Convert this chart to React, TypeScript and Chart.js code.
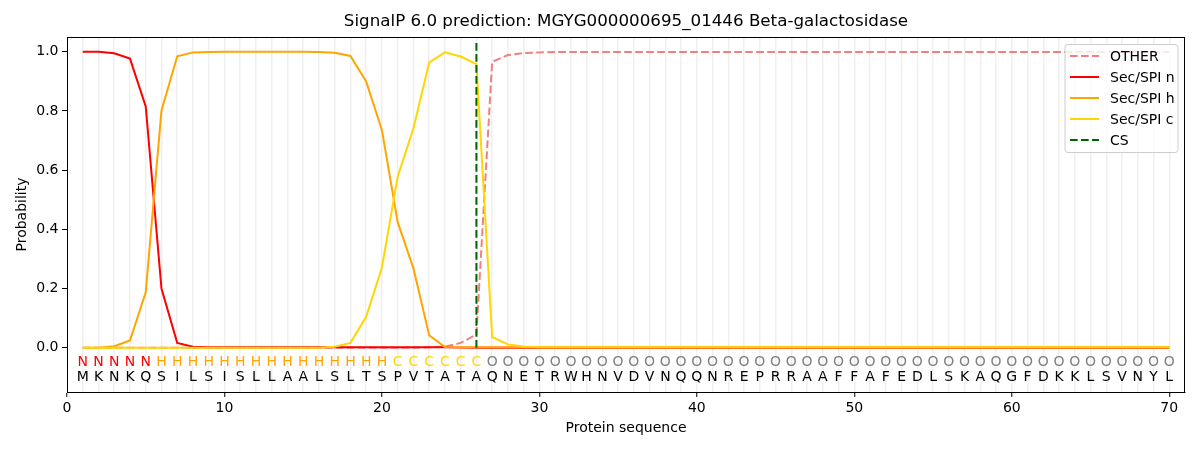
import React, { useEffect, useRef } from "react";
import { Chart, registerables } from "chart.js";

Chart.register(...registerables);

const positions = [
  1, 2, 3, 4, 5, 6, 7, 8, 9, 10, 11, 12, 13, 14, 15, 16, 17, 18, 19, 20,
  21, 22, 23, 24, 25, 26, 27, 28, 29, 30, 31, 32, 33, 34, 35, 36, 37, 38, 39, 40,
  41, 42, 43, 44, 45, 46, 47, 48, 49, 50, 51, 52, 53, 54, 55, 56, 57, 58, 59, 60,
  61, 62, 63, 64, 65, 66, 67, 68, 69, 70,
];

const residues = "MKNKQSILSISLLAALSLTSPVTATAQNETRWHNVDVNQQNREPRRAAFFAFEDLSKAQGFDKKLSVNYL";
const regionLabels = "NNNNNHHHHHHHHHHHHHHHCCCCCCOOOOOOOOOOOOOOOOOOOOOOOOOOOOOOOOOOOOOOOOOOOO";

const otherValues = [
  0, 0, 0, 0, 0, 0, 0, 0, 0, 0, 0, 0, 0, 0, 0, 0, 0, 0, 0, 0,
  0, 0, 0.001, 0.003, 0.016, 0.044, 0.966, 0.989, 0.996, 0.998, 0.999, 0.999, 0.999, 0.999, 0.999, 0.999, 0.999, 0.999, 0.999, 0.999,
  0.999, 0.999, 0.999, 0.999, 0.999, 0.999, 0.999, 0.999, 0.999, 0.999, 0.999, 0.999, 0.999, 0.999, 0.999, 0.999, 0.999, 0.999, 0.999, 0.999,
  0.999, 0.999, 0.999, 0.999, 0.999, 0.999, 0.999, 0.999, 0.999, 0.999,
];

const secNValues = [
  1.0, 1.0, 0.995, 0.977, 0.815, 0.2, 0.016, 0.003, 0.001, 0.001, 0.001, 0.001, 0.001, 0.001, 0.001, 0.001, 0.001, 0.001, 0.001, 0.001,
  0.001, 0.001, 0.001, 0.001, 0, 0, 0, 0, 0, 0, 0, 0, 0, 0, 0, 0, 0, 0, 0, 0,
  0, 0, 0, 0, 0, 0, 0, 0, 0, 0, 0, 0, 0, 0, 0, 0, 0, 0, 0, 0,
  0, 0, 0, 0, 0, 0, 0, 0, 0, 0,
];

const secHValues = [
  0, 0, 0.005, 0.024, 0.187, 0.802, 0.985, 0.998, 0.999, 1.0, 1.0, 1.0, 1.0, 1.0, 1.0, 0.999, 0.997, 0.986, 0.9, 0.735,
  0.424, 0.268, 0.042, 0.002, 0.001, 0.001, 0.001, 0.001, 0.001, 0.001, 0.001, 0.001, 0.001, 0.001, 0.001, 0.001, 0.001, 0.001, 0.001, 0.001,
  0.001, 0.001, 0.001, 0.001, 0.001, 0.001, 0.001, 0.001, 0.001, 0.001, 0.001, 0.001, 0.001, 0.001, 0.001, 0.001, 0.001, 0.001, 0.001, 0.001,
  0.001, 0.001, 0.001, 0.001, 0.001, 0.001, 0.001, 0.001, 0.001, 0.001,
];

const secCValues = [
  0, 0, 0, 0, 0, 0, 0, 0, 0, 0, 0, 0, 0, 0, 0, 0, 0.003, 0.016, 0.104, 0.271,
  0.578, 0.741, 0.964, 0.998, 0.984, 0.958, 0.036, 0.011, 0.004, 0.001, 0.001, 0.001, 0.001, 0.001, 0.001, 0.001, 0.001, 0.001, 0.001, 0.001,
  0.001, 0.001, 0.001, 0.001, 0.001, 0.001, 0.001, 0.001, 0.001, 0.001, 0.001, 0.001, 0.001, 0.001, 0.001, 0.001, 0.001, 0.001, 0.001, 0.001,
  0.001, 0.001, 0.001, 0.001, 0.001, 0.001, 0.001, 0.001, 0.001, 0.001,
];

const csPosition = 26;
const csSpan = [0, 1.035];

const yTickValues = [0, 0.2, 0.4, 0.6, 0.8, 1.0];
const xTickStep = 1;
const xLabelEvery = 10;

const titleText = "SignalP 6.0 prediction: MGYG000000695_01446 Beta-galactosidase";
const legendNames = ["OTHER", "Sec/SPI n", "Sec/SPI h", "Sec/SPI c", "CS"];

const FONT = "DejaVu Sans";
const regionColor: Record<string, string> = { N: "red", H: "orange", C: "gold", O: "gray" };

const toPoints = (vals: number[]) => positions.map((p, i) => ({ x: p, y: vals[i] }));

const overlayPlugin = {
  id: "overlay",
  afterDraw(chart: any) {
    const { ctx, chartArea, scales } = chart;
    const xs = scales.x;
    const ys = scales.y;
    ctx.save();
    // title, centred over the axes
    ctx.font = `16.7px "${FONT}"`;
    ctx.textAlign = "center";
    ctx.textBaseline = "middle";
    ctx.fillStyle = "#000";
    ctx.fillText(titleText, (chartArea.left + chartArea.right) / 2, chartArea.top - 15);
    // residue letters
    ctx.font = `14px "${FONT}"`;
    const yLab = ys.getPixelForValue(-0.049);
    const yRes = ys.getPixelForValue(-0.1);
    for (let i = 0; i < positions.length; i++) {
      const px = xs.getPixelForValue(positions[i]);
      const lab = regionLabels[i];
      ctx.fillStyle = regionColor[lab] || "gray";
      ctx.fillText(lab, px, yLab);
      ctx.fillStyle = "#000";
      ctx.fillText(residues[i], px, yRes);
    }
    // frame
    ctx.strokeStyle = "#000";
    ctx.lineWidth = 1;
    ctx.strokeRect(
      Math.round(chartArea.left) + 0.5,
      Math.round(chartArea.top) + 0.5,
      Math.round(chartArea.right - chartArea.left) - 1,
      Math.round(chartArea.bottom - chartArea.top)
    );
    // legend
    const datasets = chart.data.datasets;
    const order = [0, 1, 2, 3, 4];
    const boxW = 113;
    const rowH = 21;
    const boxH = 108;
    const bx = chartArea.right - 7 - boxW;
    const by = chartArea.top + 7.5;
    ctx.beginPath();
    const r = 3;
    ctx.moveTo(bx + r, by);
    ctx.lineTo(bx + boxW - r, by);
    ctx.arcTo(bx + boxW, by, bx + boxW, by + r, r);
    ctx.lineTo(bx + boxW, by + boxH - r);
    ctx.arcTo(bx + boxW, by + boxH, bx + boxW - r, by + boxH, r);
    ctx.lineTo(bx + r, by + boxH);
    ctx.arcTo(bx, by + boxH, bx, by + boxH - r, r);
    ctx.lineTo(bx, by + r);
    ctx.arcTo(bx, by, bx + r, by, r);
    ctx.closePath();
    ctx.fillStyle = "rgba(255,255,255,0.8)";
    ctx.fill();
    ctx.strokeStyle = "#cccccc";
    ctx.lineWidth = 1;
    ctx.stroke();
    ctx.textAlign = "left";
    ctx.textBaseline = "middle";
    ctx.font = `14px "${FONT}"`;
    order.forEach((di, k) => {
      const ds = datasets[di];
      const cy = by + 11.5 + k * rowH;
      ctx.beginPath();
      ctx.setLineDash(ds.borderDash || []);
      ctx.strokeStyle = ds.borderColor;
      ctx.lineWidth = ds.borderWidth;
      ctx.moveTo(bx + 5, cy);
      ctx.lineTo(bx + 34, cy);
      ctx.stroke();
      ctx.setLineDash([]);
      ctx.fillStyle = "#000";
      ctx.fillText(legendNames[k], bx + 45, cy + 1);
    });
    ctx.restore();
  },
};

export default function App() {
  const canvasRef = useRef<HTMLCanvasElement | null>(null);

  useEffect(() => {
    document.body.style.margin = "0";
    const canvas = canvasRef.current;
    if (!canvas) return;
    const chart = new Chart(canvas, {
      type: "line",
      data: {
        datasets: [
          {
            label: legendNames[0],
            data: toPoints(otherValues),
            borderColor: "#f08080",
            borderDash: [7.7, 3.3],
            borderWidth: 2,
            pointRadius: 0,
            tension: 0,
            order: 5,
          },
          {
            label: legendNames[1],
            data: toPoints(secNValues),
            borderColor: "red",
            borderWidth: 2,
            pointRadius: 0,
            tension: 0,
            order: 4,
          },
          {
            label: legendNames[2],
            data: toPoints(secHValues),
            borderColor: "orange",
            borderWidth: 2,
            pointRadius: 0,
            tension: 0,
            order: 3,
          },
          {
            label: legendNames[3],
            data: toPoints(secCValues),
            borderColor: "gold",
            borderWidth: 2,
            pointRadius: 0,
            tension: 0,
            order: 2,
          },
          {
            label: legendNames[4],
            data: csSpan.map((v) => ({ x: csPosition, y: v })),
            borderColor: "#006400",
            borderDash: [7.7, 3.3],
            borderWidth: 2,
            pointRadius: 0,
            tension: 0,
            order: 1,
          },
        ] as any,
      },
      options: {
        animation: false,
        responsive: true,
        maintainAspectRatio: false,
        devicePixelRatio: 1,
        layout: { padding: { left: 0, right: 15, top: 37, bottom: 0 } },
        plugins: {
          legend: { display: false },
          tooltip: { enabled: false },
          title: { display: false },
        },
        scales: {
          x: {
            type: "linear",
            min: 0,
            max: 71,
            offset: false,
            afterBuildTicks: (s: any) => {
              const t: any[] = [];
              for (let v = 0; v <= 70; v += xTickStep) t.push({ value: v });
              s.ticks = t;
            },
            afterFit: (s: any) => {
              s.height = 58;
            },
            ticks: {
              autoSkip: false,
              maxRotation: 0,
              padding: 3,
              color: "#000",
              font: { family: FONT, size: 14 },
              callback: (v: any) => (Number(v) % xLabelEvery === 0 ? String(v) : ""),
            },
            grid: {
              drawOnChartArea: true,
              color: (c: any) => (c.tick && c.tick.value >= 1 ? "#efefef" : "rgba(0,0,0,0)"),
              lineWidth: 1.5,
              tickLength: 5,
              tickWidth: 1,
              tickColor: (c: any) =>
                c.tick && c.tick.value % xLabelEvery === 0 ? "#000" : "rgba(0,0,0,0)",
            },
            border: { display: true, color: "#000", width: 1 },
            title: {
              display: true,
              text: "Protein sequence",
              color: "#000",
              font: { family: FONT, size: 14 },
              padding: { top: 0, bottom: 13.6 },
            },
          },
          y: {
            type: "linear",
            min: -0.15,
            max: 1.05,
            afterBuildTicks: (s: any) => {
              s.ticks = yTickValues.map((v) => ({ value: v }));
            },
            afterFit: (s: any) => {
              s.width = 67;
            },
            ticks: {
              padding: 3.5,
              color: "#000",
              font: { family: FONT, size: 14 },
              callback: (v: any) => Number(v).toFixed(1),
            },
            grid: {
              drawOnChartArea: false,
              tickLength: 5,
              tickWidth: 1,
              tickColor: "#000",
            },
            border: { display: true, color: "#000", width: 1 },
            title: {
              display: true,
              text: "Probability",
              color: "#000",
              font: { family: FONT, size: 14 },
              padding: { top: 13.6, bottom: 0 },
            },
          },
        },
      } as any,
      plugins: [overlayPlugin],
    });
    return () => chart.destroy();
  }, []);

  return (
    <div style={{ position: "absolute", left: 0, top: 0, width: 1200, height: 450 }}>
      <canvas ref={canvasRef} />
    </div>
  );
}
